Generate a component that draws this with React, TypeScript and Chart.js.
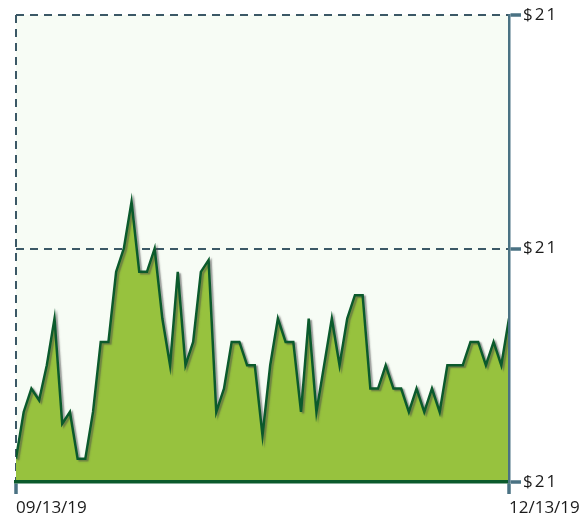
import React, { useEffect, useRef } from "react";
import { Chart, registerables } from "chart.js";

Chart.register(...registerables);

const prices: number[] = [
  20.91, 20.93, 20.94, 20.935, 20.95, 20.97, 20.925, 20.93, 20.91, 20.91,
  20.93, 20.96, 20.96, 20.99, 21.0, 21.02, 20.99, 20.99, 21.0, 20.97,
  20.95, 20.99, 20.95, 20.96, 20.99, 20.995, 20.93, 20.94, 20.96, 20.96,
  20.95, 20.95, 20.92, 20.95, 20.97, 20.96, 20.96, 20.93, 20.97, 20.93,
  20.95, 20.97, 20.95, 20.97, 20.98, 20.98, 20.94, 20.94, 20.95, 20.94,
  20.94, 20.93, 20.94, 20.93, 20.94, 20.93, 20.95, 20.95, 20.95, 20.96,
  20.96, 20.95, 20.96, 20.95, 20.97,
];
const dateTicks: string[] = ["09/13/19", "12/13/19"];
const yTicks: number[] = [20.9, 21.0, 21.1];

const BG = "#f7fcf5";
const FILL = "#97c23e";
const LINE = "#0b5a2c";
const SLATE = "#4a7283";
const GRID = "#3b5866";
const FONT = "'Open Sans'";

export default function App() {
  const ref = useRef<HTMLCanvasElement | null>(null);
  useEffect(() => {
    if (!ref.current) return;
    const pts = prices.map((v, i) => ({ x: i, y: v }));
    const last = prices.length - 1;
    const bgPlugin = {
      id: "bgArea",
      beforeDraw(chart: any) {
        const { ctx, chartArea } = chart;
        ctx.save();
        ctx.fillStyle = BG;
        ctx.fillRect(chartArea.left, chartArea.top, chartArea.right - chartArea.left, chartArea.bottom - chartArea.top);
        ctx.restore();
      },
    };
    const shadowPlugin = {
      id: "lineShadow",
      beforeDatasetDraw(chart: any, args: any) {
        if (args.index !== 0) return;
        const ctx = chart.ctx;
        ctx.save();
        ctx.shadowColor = "rgba(70,70,70,0.55)";
        ctx.shadowOffsetX = 2;
        ctx.shadowOffsetY = 1.5;
        ctx.shadowBlur = 1.5;
      },
      afterDatasetDraw(chart: any, args: any) {
        if (args.index !== 0) return;
        chart.ctx.restore();
      },
    };
    const chart = new Chart(ref.current, {
      type: "line",
      data: {
        datasets: [
          {
            data: pts,
            borderColor: LINE,
            borderWidth: 2.5,
            pointRadius: 0,
            fill: false,
            tension: 0,
          },
          {
            data: pts,
            borderWidth: 0,
            borderColor: "rgba(0,0,0,0)",
            backgroundColor: FILL,
            pointRadius: 0,
            fill: "start",
            tension: 0,
          },
        ],
      },
      options: {
        animation: false,
        responsive: false,
        layout: { padding: { left: 16, top: 15, right: 0, bottom: 0 } },
        plugins: { legend: { display: false }, tooltip: { enabled: false }, title: { display: false } },
        scales: {
          x: {
            type: "linear",
            min: 0,
            max: last,
            afterBuildTicks(scale: any) {
              scale.ticks = [{ value: 0 }, { value: last }];
            },
            afterFit(scale: any) {
              scale.height = 35;
              scale.paddingLeft = 0;
              scale.paddingRight = 0;
            },
            ticks: {
              autoSkip: false,
              maxRotation: 0,
              align: "start",
              padding: 4,
              color: "#1a1a1a",
              font: { family: FONT, size: 17 },
              callback: (_v: any, i: number) => dateTicks[i],
            },
            grid: {
              color: GRID,
              lineWidth: 2,
              tickLength: 12,
              tickColor: SLATE,
              tickWidth: 3.5,
            },
            border: { display: true, color: LINE, width: 3.5, dash: [8, 6], z: 1 },
          },
          y: {
            position: "right",
            min: 20.9,
            max: 21.1,
            afterBuildTicks(scale: any) {
              scale.ticks = yTicks.map((v) => ({ value: v }));
              if (!scale.__spaced) {
                scale.__spaced = true;
                const orig = scale.drawLabels;
                scale.drawLabels = function (area: any) {
                  const ctx = this.ctx;
                  ctx.save();
                  ctx.letterSpacing = "2px";
                  orig.call(this, area);
                  ctx.restore();
                };
              }
            },
            afterFit(scale: any) {
              scale.width = 72;
              scale.paddingTop = 0;
              scale.paddingBottom = 0;
            },
            ticks: {
              padding: 2,
              color: "#1a1a1a",
              font: { family: FONT, size: 17 },
              callback: (v: any) => "$" + Math.round(Number(v)),
            },
            grid: {
              color: GRID,
              lineWidth: 2,
              tickLength: 12,
              tickColor: SLATE,
              tickWidth: 3.5,
            },
            border: { display: true, color: SLATE, width: 2.5, dash: [8, 6], z: 1 },
          },
        },
      },
      plugins: [bgPlugin, shadowPlugin],
    });
    return () => chart.destroy();
  }, []);
  return (
    <div style={{ position: "absolute", left: 0, top: 0, width: 581, height: 517, background: "#fff" }}>
      <canvas ref={ref} width={581} height={517} style={{ display: "block", width: 581, height: 517 }} />
    </div>
  );
}
